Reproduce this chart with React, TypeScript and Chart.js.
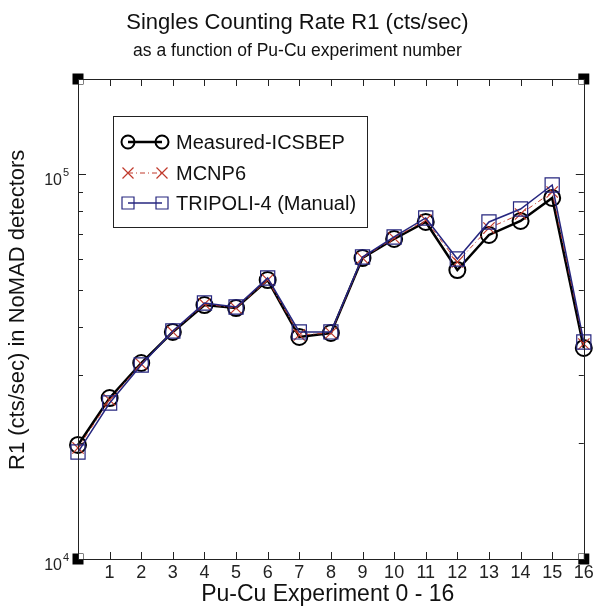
import React, { useEffect, useRef } from 'react';
import { Chart, registerables } from 'chart.js';

Chart.register(...registerables);

// ---------- data ----------
const experiments = [0, 1, 2, 3, 4, 5, 6, 7, 8, 9, 10, 11, 12, 13, 14, 15, 16];
const measured = [19780, 26190, 32290, 38880, 45670, 44860, 53040, 37730, 38640, 60500, 67800, 75050, 56300, 69440, 75500, 86650, 35330];
const mcnp6 = [19430, 25880, 32100, 38880, 45950, 44860, 53040, 38190, 38640, 60500, 68200, 75960, 59070, 72400, 78730, 89800, 36180];
const tripoli4 = [18960, 25420, 31910, 39100, 46230, 45130, 53690, 38880, 38880, 60860, 68620, 76870, 60140, 75050, 81120, 93630, 36620];
const seriesLabels = ['Measured-ICSBEP', 'MCNP6', 'TRIPOLI-4 (Manual)'];
const xTickLabels = ['', '1', '2', '3', '4', '5', '6', '7', '8', '9', '10', '11', '12', '13', '14', '15', '16'];
const xMajorTicks = [1, 2, 3, 4, 5, 6, 7, 8, 9, 10, 11, 12, 13, 14, 15];
const yMajorTicks = [10000, 100000];
const yTickBases = ['10', '10'];
const yTickExponents = ['4', '5'];
const yMinorTicks = [20000, 30000, 40000, 50000, 60000, 70000, 80000, 90000];
const yMin = 10000;
const yMax = 176500;

const FONT = "'Liberation Sans', Arial, Helvetica, sans-serif";
const BLACK = '#000000';
const RED = '#c0392b';
const NAVY = '#26267f';

type Pt = { x: number; y: number };
const toPoints = (vals: number[]): Pt[] => experiments.map((x, i) => ({ x, y: vals[i] }));

function drawMarker(ctx: CanvasRenderingContext2D, style: string, x: number, y: number, r: number) {
  ctx.beginPath();
  if (style === 'circle') {
    ctx.arc(x, y, r, 0, Math.PI * 2);
  } else if (style === 'rect') {
    ctx.rect(x - r, y - r, 2 * r, 2 * r);
  } else {
    ctx.moveTo(x - r, y - r);
    ctx.lineTo(x + r, y + r);
    ctx.moveTo(x + r, y - r);
    ctx.lineTo(x - r, y + r);
  }
  ctx.stroke();
}

const framePlugin = {
  id: 'matlabFrame',
  afterDraw(chart: any) {
    const { ctx, chartArea } = chart;
    const { left, right, top, bottom } = chartArea;
    const xs = chart.scales.x;
    const ys = chart.scales.y;
    ctx.save();
    ctx.strokeStyle = '#222';
    ctx.lineWidth = 1;
    // tick marks (inward, mirrored)
    ctx.beginPath();
    xMajorTicks.forEach((v) => {
      const px = Math.round(xs.getPixelForValue(v)) + 0.5;
      ctx.moveTo(px, bottom);
      ctx.lineTo(px, bottom - 7);
      ctx.moveTo(px, top);
      ctx.lineTo(px, top + 7);
    });
    yMajorTicks.forEach((v) => {
      const py = Math.round(ys.getPixelForValue(v)) + 0.5;
      ctx.moveTo(left, py);
      ctx.lineTo(left + 8, py);
      ctx.moveTo(right, py);
      ctx.lineTo(right - 8, py);
    });
    yMinorTicks.forEach((v) => {
      const py = Math.round(ys.getPixelForValue(v)) + 0.5;
      ctx.moveTo(left, py);
      ctx.lineTo(left + 5, py);
      ctx.moveTo(right, py);
      ctx.lineTo(right - 5, py);
    });
    ctx.stroke();

    // y tick labels: base with superscript exponent
    ctx.fillStyle = '#222';
    yMajorTicks.forEach((v, i) => {
      const py = ys.getPixelForValue(v);
      ctx.textBaseline = 'alphabetic';
      ctx.textAlign = 'right';
      ctx.font = `16px ${FONT}`;
      ctx.fillText(yTickBases[i], 62, py + 11);
      ctx.textAlign = 'left';
      ctx.font = `11px ${FONT}`;
      ctx.fillText(yTickExponents[i], 63, py + 2);
    });

    // corner blocks
    const corners: [number, number, number, number][] = [
      [left, top, 1, 1],
      [right, top, -1, 1],
      [left, bottom, 1, -1],
      [right, bottom, -1, -1],
    ];
    corners.forEach(([cx, cy, dx, dy]) => {
      ctx.fillStyle = '#000';
      ctx.fillRect(cx - 5.5, cy - 5.5, 11, 11);
      ctx.fillStyle = '#fff';
      ctx.fillRect(dx > 0 ? cx : cx - 5, dy > 0 ? cy : cy - 5, 5, 5);
    });

    // frame
    ctx.strokeStyle = '#222';
    ctx.lineWidth = 1;
    ctx.strokeRect(Math.round(left) + 0.5, Math.round(top) + 0.5, Math.round(right - left), Math.round(bottom - top));

    // legend
    const bx = 113.5, by = 116.5, bw = 254, bh = 111;
    ctx.fillStyle = '#fff';
    ctx.fillRect(bx, by, bw, bh);
    ctx.strokeStyle = '#222';
    ctx.lineWidth = 1;
    ctx.strokeRect(bx, by, bw, bh);
    const rows = [142, 173, 203];
    const dsets = chart.data.datasets;
    dsets.forEach((ds: any, i: number) => {
      const y = rows[i];
      const x1 = 128, x2 = 162;
      ctx.save();
      ctx.strokeStyle = ds.borderColor;
      ctx.lineWidth = ds.borderWidth;
      ctx.setLineDash(ds.borderDash || []);
      ctx.beginPath();
      ctx.moveTo(x1, y);
      ctx.lineTo(x2, y);
      ctx.stroke();
      ctx.setLineDash([]);
      ctx.lineWidth = ds.pointBorderWidth;
      const r = ds.pointStyle === 'circle' ? 6.5 : ds.pointStyle === 'rect' ? 6 : 5.5;
      drawMarker(ctx, ds.pointStyle, x1, y, r);
      drawMarker(ctx, ds.pointStyle, x2, y, r);
      ctx.restore();
      ctx.fillStyle = '#111';
      ctx.font = `20px ${FONT}`;
      ctx.textAlign = 'left';
      ctx.textBaseline = 'middle';
      ctx.fillText(ds.label, 176, y + 1);
    });
    ctx.restore();
  },
};

export default function App() {
  const canvasRef = useRef<HTMLCanvasElement | null>(null);

  useEffect(() => {
    document.body.style.margin = '0';
    const canvas = canvasRef.current;
    if (!canvas) return;
    const chart = new Chart(canvas, {
      type: 'line',
      data: {
        datasets: [
          {
            label: seriesLabels[0],
            data: toPoints(measured),
            borderColor: BLACK,
            borderWidth: 2.5,
            pointStyle: 'circle',
            pointRadius: 8,
            pointBorderWidth: 2,
            pointBorderColor: BLACK,
            pointBackgroundColor: 'transparent',
            fill: false,
            tension: 0,
            clip: false,
            order: 3,
          },
          {
            label: seriesLabels[1],
            data: toPoints(mcnp6),
            borderColor: RED,
            borderWidth: 1,
            borderDash: [5, 3, 1, 3],
            pointStyle: 'crossRot',
            pointRadius: 8,
            pointBorderWidth: 1.2,
            pointBorderColor: RED,
            pointBackgroundColor: 'transparent',
            fill: false,
            tension: 0,
            clip: false,
            order: 2,
          },
          {
            label: seriesLabels[2],
            data: toPoints(tripoli4),
            borderColor: NAVY,
            borderWidth: 1.5,
            pointStyle: 'rect',
            pointRadius: 10,
            pointBorderWidth: 1.2,
            pointBorderColor: NAVY,
            pointBackgroundColor: 'transparent',
            fill: false,
            tension: 0,
            clip: false,
            order: 1,
          },
        ] as any,
      },
      options: {
        animation: false,
        responsive: true,
        maintainAspectRatio: false,
        layout: { padding: 0 },
        events: [],
        plugins: {
          legend: { display: false },
          tooltip: { enabled: false },
          title: {
            display: true,
            text: 'Singles Counting Rate R1 (cts/sec)',
            color: '#111',
            font: { family: FONT, size: 22, weight: 'normal' },
            padding: { top: 10, bottom: 0 },
          },
          subtitle: {
            display: true,
            text: 'as a function of Pu-Cu experiment number',
            color: '#111',
            font: { family: FONT, size: 17.5, weight: 'normal' },
            padding: { top: 4, bottom: 17.6 },
          },
        },
        scales: {
          x: {
            type: 'linear',
            position: 'bottom',
            min: 0,
            max: 16,
            grid: { display: false, drawTicks: false },
            border: { display: false },
            ticks: {
              stepSize: 1,
              autoSkip: false,
              maxRotation: 0,
              minRotation: 0,
              padding: 3,
              color: '#222',
              font: { family: FONT, size: 18 },
              callback: (v: any) => xTickLabels[Number(v)] ?? '',
            },
            title: {
              display: true,
              text: 'Pu-Cu Experiment 0 - 16 ',
              color: '#111',
              font: { family: FONT, size: 23 },
              padding: { top: 0, bottom: 3 },
            },
            afterFit: (s: any) => {
              s.height = 52;
              s.paddingLeft = 0;
              s.paddingRight = 0;
            },
          },
          y: {
            type: 'logarithmic',
            position: 'left',
            min: yMin,
            max: yMax,
            grid: { display: false, drawTicks: false },
            border: { display: false },
            afterBuildTicks: (s: any) => {
              s.ticks = yMajorTicks.map((value) => ({ value }));
            },
            ticks: { display: false },
            title: {
              display: true,
              text: '   R1 (cts/sec) in NoMAD detectors',
              color: '#111',
              font: { family: FONT, size: 22 },
              padding: { top: 5, bottom: 0 },
            },
            afterFit: (s: any) => {
              s.width = 78;
              s.paddingTop = 0;
              s.paddingBottom = 0;
            },
          },
          yR: {
            type: 'linear',
            position: 'right',
            display: true,
            grid: { display: false, drawTicks: false },
            border: { display: false },
            ticks: { display: false },
            afterFit: (s: any) => {
              s.width = 7;
              s.paddingTop = 0;
              s.paddingBottom = 0;
            },
          },
        },
      } as any,
      plugins: [framePlugin],
    });
    return () => chart.destroy();
  }, []);

  return (
    <div style={{ width: 595, height: 611, position: 'relative', background: '#fff' }}>
      <canvas ref={canvasRef} />
    </div>
  );
}
